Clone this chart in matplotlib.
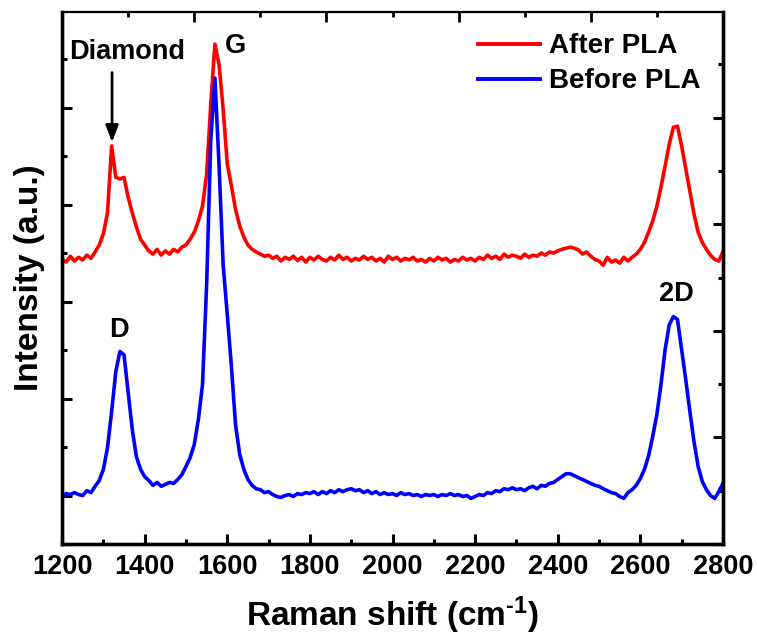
import numpy as np
import matplotlib
matplotlib.use("Agg")
import matplotlib.pyplot as plt
from matplotlib.ticker import MultipleLocator

plt.rcParams['font.family'] = ['Liberation Sans', 'DejaVu Sans']
plt.rcParams['font.weight'] = 'bold'
plt.rcParams['mathtext.fontset'] = 'custom'
plt.rcParams['mathtext.rm'] = 'Liberation Sans:bold'
plt.rcParams['mathtext.bf'] = 'Liberation Sans:bold'
plt.rcParams['mathtext.default'] = 'bf'

# Raman shift (cm-1), 10 cm-1 steps
shift = np.arange(1200, 2801, 10)

# Before PLA (left axis, a.u.)
before_pla = [
    -20, 40, 20, 60, 20, 0, 100, 60, 190, 310,
    540, 990, 1730, 2550, 2970, 2900, 2140, 1360, 800, 540,
    390, 310, 210, 270, 190, 230, 270, 250, 330, 430,
    600, 780, 1050, 1570, 2290, 4350, 7330, 8610, 6820, 4760,
    3730, 2660, 1460, 850, 540, 330, 210, 140, 120, 60,
    80, 20, -20, -40, 0, 20, -20, 40, 20, 60,
    40, 80, 20, 80, 40, 100, 60, 120, 80, 120,
    140, 100, 120, 60, 100, 40, 80, 20, 60, 20,
    40, 0, 60, 20, 40, 0, 20, -20, 20, 0,
    20, -20, 20, 0, 40, 0, 20, -20, 0, -60,
    -20, 20, 0, 60, 40, 100, 80, 140, 120, 160,
    120, 140, 100, 160, 190, 140, 210, 190, 250, 270,
    330, 390, 450, 450, 410, 370, 330, 290, 250, 210,
    190, 140, 100, 60, 40, -20, -60, 60, 120, 210,
    350, 540, 820, 1220, 1670, 2290, 3010, 3520, 3690, 3630,
    3010, 2390, 1730, 1110, 600, 290, 120, 0, -60, 80,
    250,
]

# After PLA (right axis, a.u.)
after_pla = [
    2670, 2645, 2700, 2655, 2690, 2665, 2710, 2680, 2740, 2805,
    2910, 3110, 3735, 3440, 3425, 3440, 3255, 3105, 2975, 2860,
    2805, 2750, 2720, 2765, 2710, 2750, 2720, 2765, 2740, 2785,
    2805, 2860, 2925, 3030, 3170, 3470, 4125, 4690, 4500, 4080,
    3565, 3360, 3140, 2985, 2880, 2805, 2765, 2740, 2720, 2700,
    2710, 2680, 2700, 2655, 2690, 2670, 2700, 2660, 2690, 2645,
    2690, 2665, 2700, 2670, 2655, 2690, 2665, 2710, 2670, 2690,
    2655, 2680, 2665, 2700, 2670, 2690, 2655, 2680, 2645, 2700,
    2670, 2690, 2655, 2680, 2665, 2690, 2655, 2670, 2645, 2680,
    2655, 2690, 2665, 2680, 2645, 2670, 2655, 2690, 2665, 2680,
    2655, 2690, 2670, 2710, 2680, 2700, 2670, 2720, 2690, 2710,
    2700, 2680, 2720, 2690, 2710, 2700, 2730, 2710, 2740, 2730,
    2750, 2765, 2775, 2785, 2775, 2760, 2720, 2740, 2700, 2670,
    2655, 2615, 2690, 2645, 2665, 2635, 2690, 2655, 2690, 2720,
    2765, 2830, 2925, 3030, 3170, 3350, 3545, 3750, 3910, 3920,
    3735, 3520, 3300, 3095, 2925, 2830, 2765, 2710, 2670, 2655,
    2740,
]

fig = plt.figure(figsize=(7.57, 6.4), dpi=100)
ax = fig.add_axes([0.082, 0.15, 0.873, 0.831])
ax2 = ax.twinx()
ax.set_zorder(ax2.get_zorder() + 1)
ax.patch.set_visible(False)

l2, = ax2.plot(shift, after_pla, color='#ff0000', lw=2.6, label='After PLA')
l1, = ax.plot(shift, before_pla, color='#0000ff', lw=2.6, label='Before PLA')

ax.set_xlim(1200, 2800)
ax.set_ylim(-1000, 9970)
ax2.set_ylim(0, 4990)

ax.xaxis.set_major_locator(MultipleLocator(200))
ax.xaxis.set_minor_locator(MultipleLocator(100))
ax.yaxis.set_major_locator(MultipleLocator(2000))
ax.yaxis.set_minor_locator(MultipleLocator(1000))
ax2.yaxis.set_major_locator(MultipleLocator(1000))
ax2.yaxis.set_minor_locator(MultipleLocator(500))

ax.tick_params(axis='x', which='both', direction='in', top=False, labelsize=19.5, pad=7)
ax.tick_params(axis='y', which='both', direction='in', labelleft=False, right=False)
ax.tick_params(which='major', length=7, width=2.2)
ax.tick_params(which='minor', length=3.5, width=2.2)
ax2.tick_params(axis='y', which='both', direction='in', labelright=False)
ax2.tick_params(which='major', length=7, width=2.2)
ax2.tick_params(which='minor', length=3.5, width=2.2)

# top axis with its own tick spacing
top = ax.secondary_xaxis('top')
top.set_xticks(np.linspace(1200, 2800, 6))
top.set_xticks(np.linspace(1200, 2800, 11), minor=True)
top.tick_params(which='both', direction='in', labeltop=False, width=2)
top.tick_params(which='major', length=7)
top.tick_params(which='minor', length=3.5)
top.spines['top'].set_linewidth(1.6)

for a in (ax, ax2):
    for side in ('left', 'right', 'bottom'):
        a.spines[side].set_linewidth(2.4)
    a.spines['top'].set_visible(False)

for lab in ax.get_xticklabels():
    lab.set_fontweight('bold')

ax.set_xlabel(r'Raman shift (cm$^{\text{-1}}$)', fontsize=24, fontweight='bold', labelpad=11)
ax.set_ylabel('Intensity (a.u.)', fontsize=24, fontweight='bold', labelpad=12)

ax.text(0.098, 0.925, 'Diamond', transform=ax.transAxes, fontsize=19.5,
        fontweight='bold', ha='center', va='center')
ax.annotate('', xy=(1321, 7230), xytext=(1321, 8780),
            arrowprops=dict(arrowstyle='-|>,head_width=0.38,head_length=1.0',
                            color='black', lw=2))
ax.text(0.263, 0.936, 'G', transform=ax.transAxes, fontsize=19.5,
        fontweight='bold', ha='center', va='center')
ax.text(0.086, 0.402, 'D', transform=ax.transAxes, fontsize=19.5,
        fontweight='bold', ha='center', va='center')
ax.text(0.930, 0.470, '2D', transform=ax.transAxes, fontsize=19.5,
        fontweight='bold', ha='center', va='center')

leg = ax.legend(handles=[l2, l1], loc='upper left', bbox_to_anchor=(0.63, 0.96),
                frameon=False, fontsize=20, handlelength=2.2, handletextpad=0.35,
                borderpad=0, borderaxespad=0, labelspacing=0.32)
for t in leg.get_texts():
    t.set_fontweight('bold')
for h in leg.get_lines():
    h.set_linewidth(2.8)

fig.savefig('out.png', dpi=100)
